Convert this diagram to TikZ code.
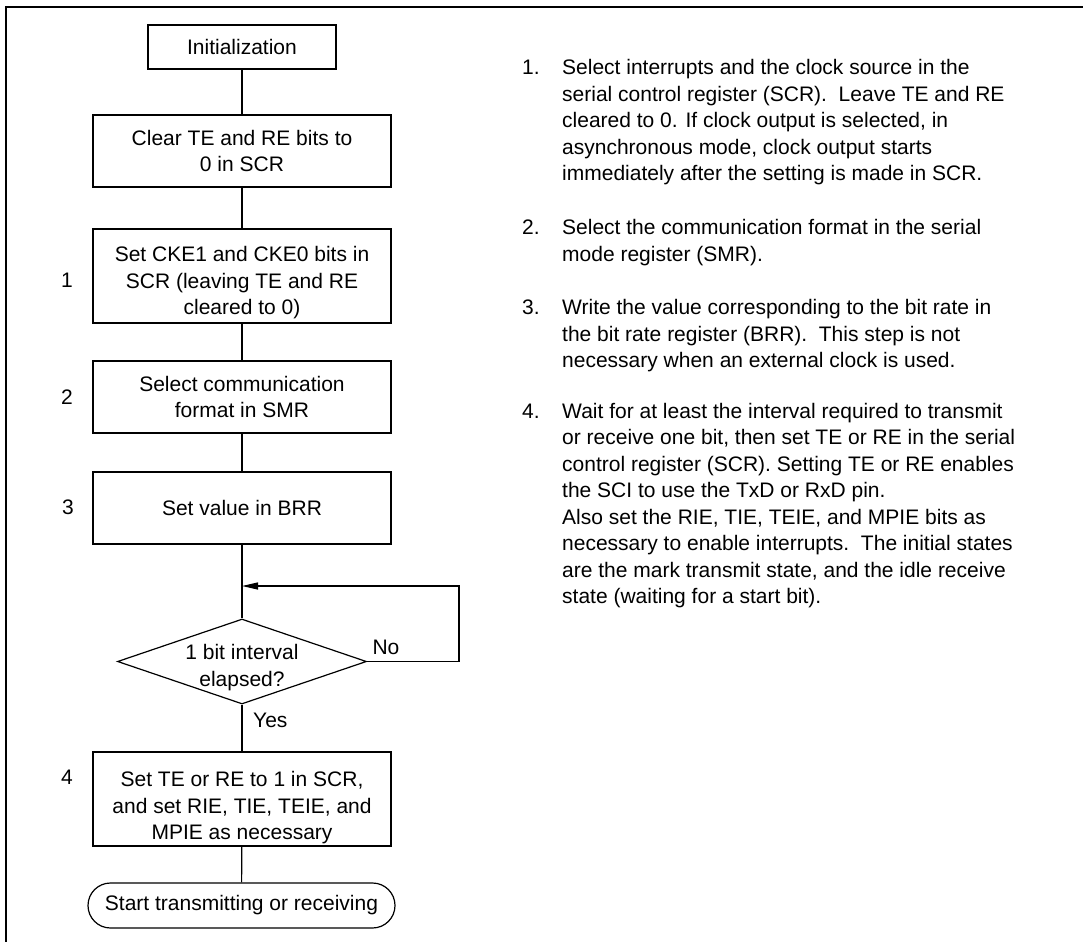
\documentclass[tikz,border=0pt]{standalone}
\usepackage{fontspec}
\setmainfont{Liberation Sans}
\usetikzlibrary{shapes.geometric,arrows.meta}
\tikzset{
  base/.style={font=\fontsize{21pt}{26.5pt}\selectfont, inner sep=0pt},
  procbox/.style={base, draw, line width=1.2pt, align=center, minimum width=298pt},
  conn/.style={line width=1.2pt},
  numlabel/.style={base},
  notes/.style={base, anchor=west, align=left},
}
\begin{document}
\begin{tikzpicture}[x=1pt,y=-1pt]
\useasboundingbox (0,0) rectangle (1083,942);
\fill[white] (0,0) rectangle (1083,942);
% frame
\coordinate (fTR) at (1083,7);
\coordinate (fTL) at (6,7);
\coordinate (fBL) at (6,942);
\draw[conn] (fTR) -- (fTL) -- (fBL);

% flowchart
\node[procbox, minimum width=188pt, minimum height=44pt] (init) at (242,47) {Initialization};
\node[procbox, minimum height=72pt] (clear) at (242,151) {Clear TE and RE bits to\\0 in SCR};
\node[procbox, minimum height=94pt,
      label={[base, align=center, yshift=-7pt]center:Set CKE1 and CKE0 bits in\\SCR (leaving TE and RE\\cleared to 0)}] (s1) at (242,276) {};
\node[procbox, minimum height=72pt] (s2) at (242,397) {Select communication\\format in SMR};
\node[procbox, minimum height=72pt] (s3) at (242,508) {Set value in BRR};
\node[base, draw, line width=1.2pt, shape=diamond, minimum width=249pt, minimum height=85pt,
      label={[base, align=center, yshift=-6pt]center:1 bit interval\\elapsed?}] (dec) at (242,661.5) {};
\node[procbox, minimum height=94pt,
      label={[base, align=center, yshift=-9pt]center:Set TE or RE to 1 in SCR,\\and set RIE, TIE, TEIE, and\\MPIE as necessary}] (s4) at (242,799) {};
\node[base, draw, line width=1.2pt, rounded corners=22.5pt, minimum width=307pt, minimum height=45pt] (term) at (241.5,905.5) {Start transmitting or receiving};

\node[numlabel] (n1) at (67,280) {1};
\node[numlabel] (n2) at (67,397) {2};
\node[numlabel] (n3) at (68,507) {3};
\node[numlabel] (n4) at (67,777) {4};

\node[base, anchor=west] (yes) at (253,720) {Yes};
\node[base] (no) at (386,647) {No};

\coordinate (loopin) at (242,586);
\coordinate (loopr) at (459,586);

\draw[conn] (init) -- (clear);
\draw[conn] (clear) -- (s1);
\draw[conn] (s1) -- (s2);
\draw[conn] (s2) -- (s3);
\draw[conn] (s3) -- (dec.north);
\draw[conn] (dec.south) -- (s4);
\draw[conn] (s4) -- (term);
\draw[conn, -{Triangle[length=16pt,width=7pt]}] (dec.east) -| (loopr) -- (loopin);

% notes
\node[notes] (t1) at (522,122.5) {\begin{tabular}{@{}p{40pt}@{}l@{}}
1. & Select interrupts and the clock source in the\\
 & serial control register (SCR).\ \ Leave TE and RE\\
 & cleared to 0. If clock output is selected, in\\
 & asynchronous mode, clock output starts\\
 & immediately after the setting is made in SCR.
\end{tabular}};
\node[notes] (t2) at (522,242.5) {\begin{tabular}{@{}p{40pt}@{}l@{}}
2. & Select the communication format in the serial\\
 & mode register (SMR).
\end{tabular}};
\node[notes] (t3) at (522,336) {\begin{tabular}{@{}p{40pt}@{}l@{}}
3. & Write the value corresponding to the bit rate in\\
 & the bit rate register (BRR).\ \ This step is not\\
 & necessary when an external clock is used.
\end{tabular}};
\node[notes] (t4) at (522,505.5) {\begin{tabular}{@{}p{40pt}@{}l@{}}
4. & Wait for at least the interval required to transmit\\
 & or receive one bit, then set TE or RE in the serial\\
 & control register (SCR). Setting TE or RE enables\\
 & the SCI to use the TxD or RxD pin.\\
 & Also set the RIE, TIE, TEIE, and MPIE bits as\\
 & necessary to enable interrupts.\ \ The initial states\\
 & are the mark transmit state, and the idle receive\\
 & state (waiting for a start bit).
\end{tabular}};
\end{tikzpicture}
\end{document}
